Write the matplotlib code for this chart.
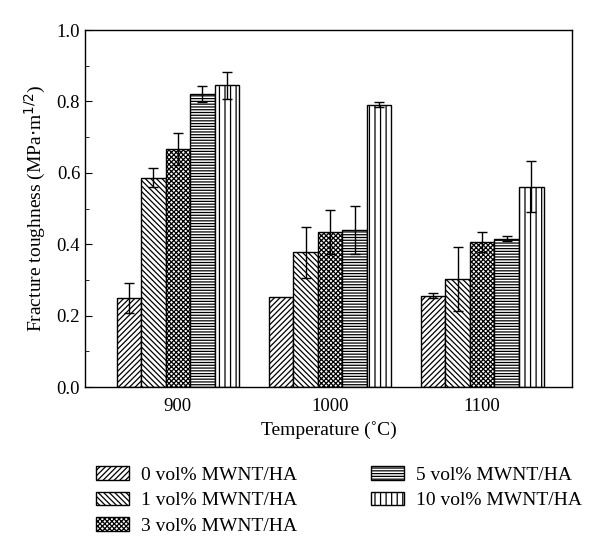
import matplotlib
matplotlib.use('Agg')
import matplotlib.pyplot as plt
import numpy as np
from matplotlib.patches import Patch
from matplotlib.ticker import MultipleLocator

plt.rcParams['font.family'] = ['Liberation Serif', 'DejaVu Serif']
plt.rcParams['hatch.linewidth'] = 0.9

# data
temps = ['900', '1000', '1100']
series = ['0 vol% MWNT/HA', '1 vol% MWNT/HA', '3 vol% MWNT/HA',
          '5 vol% MWNT/HA', '10 vol% MWNT/HA']
vol0 = [0.249, 0.253, 0.255]
vol1 = [0.586, 0.377, 0.302]
vol3 = [0.667, 0.434, 0.407]
vol5 = [0.821, 0.440, 0.416]
vol10 = [0.845, 0.791, 0.561]
err0 = [0.042, 0.0, 0.007]
err1 = [0.027, 0.072, 0.090]
err3 = [0.045, 0.062, 0.028]
err5 = [0.023, 0.068, 0.007]
err10 = [0.038, 0.008, 0.071]

values = [vol0, vol1, vol3, vol5, vol10]
errors = [err0, err1, err3, err5, err10]
hatches = ['//////', '\\\\\\\\\\\\', 'xxxxxxx', '------', '|||']

fig = plt.figure(figsize=(6, 5.54), dpi=100)
ax = fig.add_axes([0.1417, 0.3014, 0.8117, 0.6444])

x = np.arange(len(temps))
w = 0.161
for i in range(len(series)):
    pos = x + (i - 2) * w
    ax.bar(pos, values[i], w, color='white', edgecolor='black',
           hatch=hatches[i], linewidth=1.0, zorder=2)
    e = np.array(errors[i])
    mask = e > 0
    ax.errorbar(pos[mask], np.array(values[i])[mask], yerr=e[mask], fmt='none',
                ecolor='black', elinewidth=1.0, capsize=3.5, capthick=1.0, zorder=3)

ax.set_xlim(-0.61, 2.59)
ax.set_ylim(0, 1.0)
ax.set_xticks(x)
ax.set_xticklabels(temps)
ax.yaxis.set_major_locator(MultipleLocator(0.2))
ax.yaxis.set_minor_locator(MultipleLocator(0.1))
ax.yaxis.set_major_formatter(matplotlib.ticker.FormatStrFormatter('%.1f'))
ax.tick_params(direction='in', labelsize=13.5, length=5)
ax.tick_params(which='minor', direction='in', length=3)
ax.tick_params(axis='x', length=4, pad=8)
for s in ax.spines.values():
    s.set_linewidth(1.0)

ax.set_ylabel('Fracture toughness (MPa$\\cdot$m$^{1/2}$)', fontsize=14, labelpad=6)
ax.set_xlabel('Temperature (˚C)', fontsize=14, labelpad=4)

handles = [Patch(facecolor='white', edgecolor='black', hatch=hatches[i], label=series[i])
           for i in range(len(series))]
fig.legend(handles=handles, ncol=2, loc='upper center', bbox_to_anchor=(0.565, 0.19),
           frameon=False, fontsize=14, handlelength=1.7, handleheight=0.7,
           labelspacing=0.4, columnspacing=3.8, handletextpad=0.6)

plt.savefig('out.png', dpi=100)
